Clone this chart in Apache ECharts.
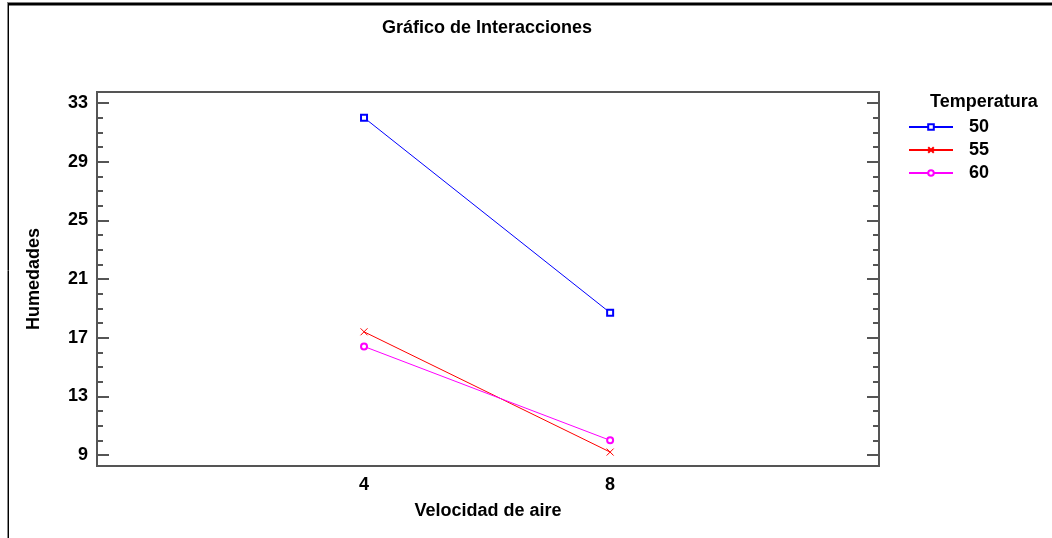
<!DOCTYPE html>
<html>
<head>
<meta charset="utf-8">
<script src="https://cdn.jsdelivr.net/npm/echarts@6/dist/echarts.min.js"></script>
<style>
html,body{margin:0;padding:0;background:#fff;}
#chart{width:1052px;height:538px;}
</style>
</head>
<body>
<div id="chart"></div>
<script>
const velocidades = [4, 8];
const temperaturas = ['50', '55', '60'];
const hum50 = [32.0, 18.7];
const hum55 = [17.4, 9.2];
const hum60 = [16.4, 10.0];
const yMin = 9, yMax = 33, yStep = 4;
const xTicks = [4, 8];

const FONT = 'Liberation Sans, Arial, sans-serif';
const chart = echarts.init(document.getElementById('chart'));
const xMin = -0.34, xMax = 12.37;

function pairs(vals){ return velocidades.map((v,i)=>[v, vals[i]]); }

function tickAx(pos){
  return {
    type:'value', position:pos, offset:0, min:yMin, max:yMax, interval:yStep,
    axisLine:{show:false}, splitLine:{show:false},
    axisTick:{show:true, inside:true, length:12, lineStyle:{color:'#555', width:2}},
    minorTick:{show:true, splitNumber:4, length:6, lineStyle:{color:'#555', width:2}},
    minorSplitLine:{show:false},
    axisLabel:{show:false}
  };
}

const option = {
  animation:false,
  backgroundColor:'#fff',
  title:[
    {text:'Gráfico de Interacciones', left:487, top:19, textAlign:'center', padding:0,
     textStyle:{color:'#000', fontFamily:FONT, fontWeight:'bold', fontSize:18}},
    {text:'Temperatura', left:930, top:93, padding:0,
     textStyle:{color:'#000', fontFamily:FONT, fontWeight:'bold', fontSize:18}}
  ],
  grid:{left:97, right:173, top:103, bottom:83, show:false,
        containLabel:false, outerBoundsMode:'none'},
  legend:{
    left:908, top:117, padding:0, orient:'vertical', itemWidth:44, itemHeight:7, itemGap:3,
    data:temperaturas,
    textStyle:{color:'#000', fontFamily:FONT, fontWeight:'bold', fontSize:18, lineHeight:20, padding:[0,0,0,11]}
  },
  xAxis:{
    type:'value', min:xMin, max:xMax,
    axisLine:{show:false}, splitLine:{show:false}, axisTick:{show:false},
    axisLabel:{customValues:xTicks, margin:21, color:'#000', fontFamily:FONT, fontWeight:'bold', fontSize:18},
    name:'Velocidad de aire', nameLocation:'middle', nameGap:47,
    nameTextStyle:{color:'#000', fontFamily:FONT, fontWeight:'bold', fontSize:18}
  },
  yAxis:[
    {
      type:'value', position:'left', offset:0, min:yMin, max:yMax, interval:yStep,
      axisLine:{show:false}, splitLine:{show:false}, axisTick:{show:false},
      axisLabel:{show:true, margin:9, color:'#000', fontFamily:FONT, fontWeight:'bold', fontSize:18},
      name:'Humedades', nameLocation:'middle', nameGap:54, nameRotate:90,
      nameTextStyle:{color:'#000', fontFamily:FONT, fontWeight:'bold', fontSize:18}
    },
    tickAx('left'),
    tickAx('right')
  ],
  series:[
    {name:'50', type:'line', data:pairs(hum50), symbol:'emptyRect', symbolSize:6,
     lineStyle:{color:'#0000ff', width:1}, itemStyle:{color:'#0000ff', borderColor:'#0000ff', borderWidth:1}},
    {name:'55', type:'line', data:pairs(hum55), symbol:'path://M0,0L10,10M10,0L0,10', symbolSize:7,
     lineStyle:{color:'#ff0000', width:1}, itemStyle:{color:'#ff0000', borderColor:'#ff0000', borderWidth:1}},
    {name:'60', type:'line', data:pairs(hum60), symbol:'emptyCircle', symbolSize:6,
     lineStyle:{color:'#ff00ff', width:1}, itemStyle:{color:'#ff00ff', borderColor:'#ff00ff', borderWidth:1}}
  ],
  graphic:[
    {type:'rect', shape:{x:97, y:92, width:782, height:374}, style:{fill:'none', stroke:'#555', lineWidth:2}, silent:true, z:10},
    {type:'line', shape:{x1:7, y1:4, x2:1052, y2:4}, style:{stroke:'#000', lineWidth:3}, silent:true},
    {type:'line', shape:{x1:7.5, y1:3, x2:7.5, y2:538}, style:{stroke:'#888', lineWidth:1}, silent:true},
    {type:'line', shape:{x1:8.5, y1:3, x2:8.5, y2:538}, style:{stroke:'#000', lineWidth:1}, silent:true}
  ]
};
chart.setOption(option);
</script>
</body>
</html>
